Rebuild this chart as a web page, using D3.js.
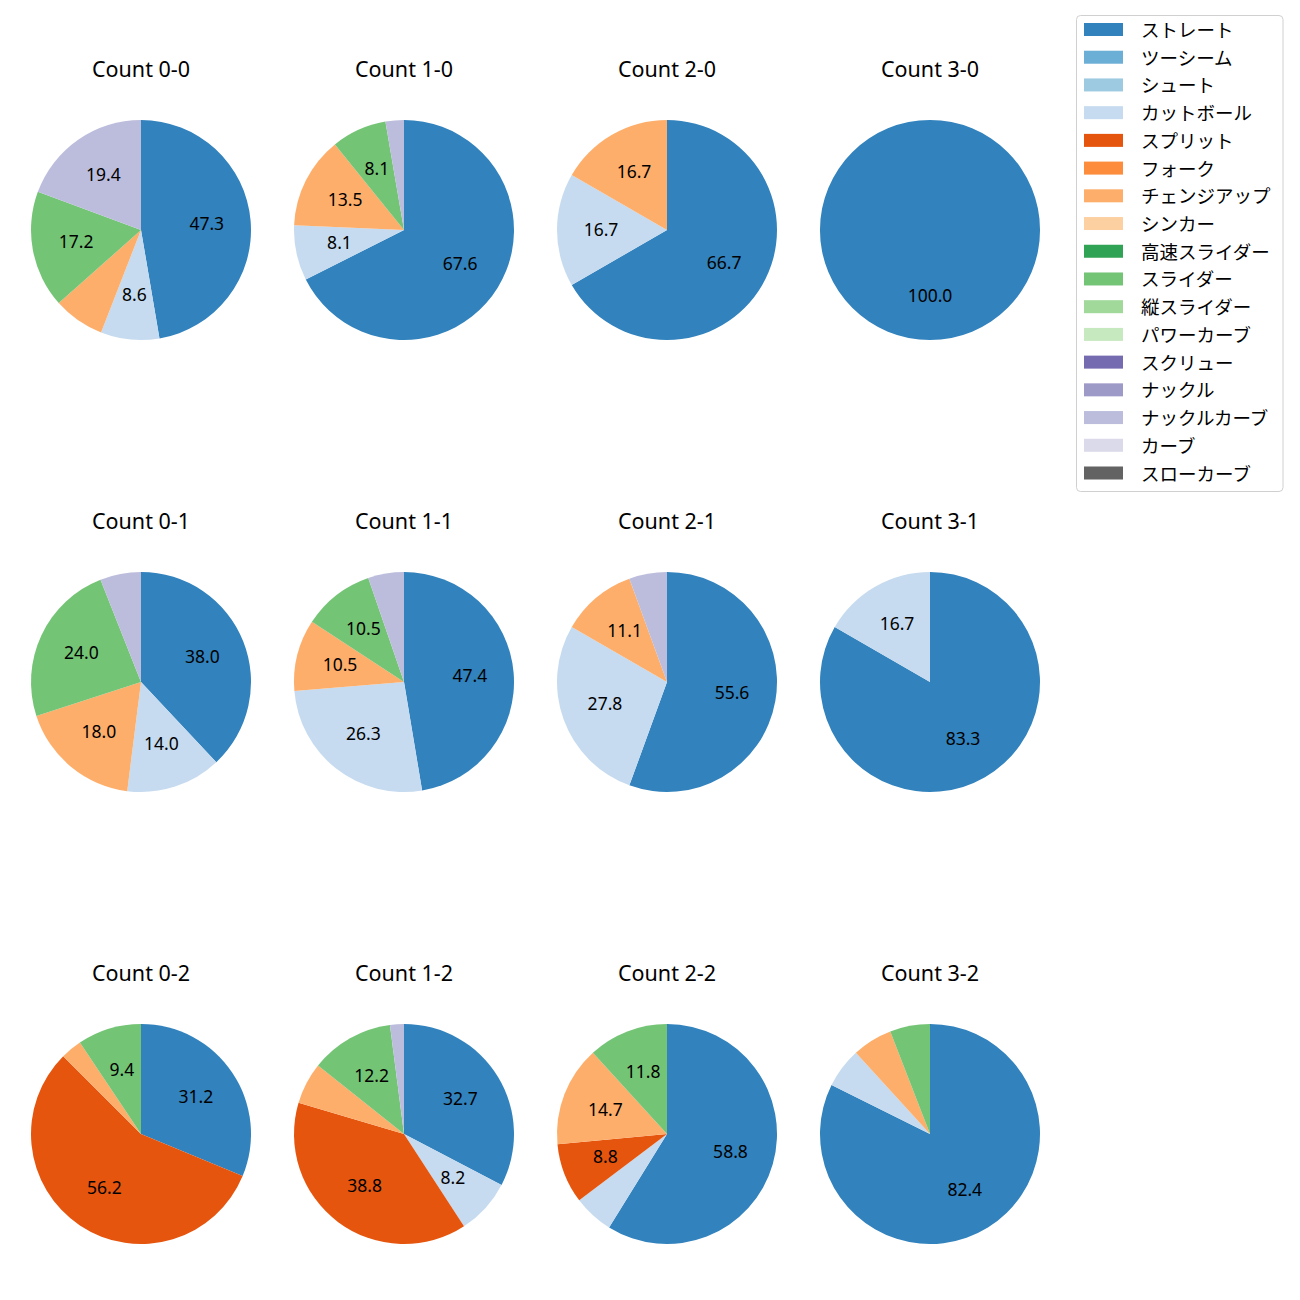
<!DOCTYPE html>
<html><head><meta charset="utf-8">
<script src="https://cdn.jsdelivr.net/npm/d3@7"></script>
<style>body{margin:0;background:#fff;} text{font-family:"Noto Sans","Noto Sans CJK JP",sans-serif;}</style>
</head><body>
<svg id="c" width="1300" height="1300"></svg>
<script>
const pitchTypes = ["ストレート","ツーシーム","シュート","カットボール","スプリット","フォーク","チェンジアップ","シンカー","高速スライダー","スライダー","縦スライダー","パワーカーブ","スクリュー","ナックル","ナックルカーブ","カーブ","スローカーブ"];
const pitchColors = ["#3182bd","#6baed6","#9ecae1","#c6dbef","#e6550d","#fd8d3c","#fdae6b","#fdd0a2","#31a354","#74c476","#a1d99b","#c7e9c0","#756bb1","#9e9ac8","#bcbddc","#dadaeb","#636363"];
const countTitles = ["Count 0-0","Count 1-0","Count 2-0","Count 3-0","Count 0-1","Count 1-1","Count 2-1","Count 3-1","Count 0-2","Count 1-2","Count 2-2","Count 3-2"];
// pitch counts per count situation, keyed by pitch type
const c00 = {"ストレート":44,"カットボール":8,"チェンジアップ":7,"スライダー":16,"ナックルカーブ":18};
const c10 = {"ストレート":25,"カットボール":3,"チェンジアップ":5,"スライダー":3,"ナックルカーブ":1};
const c20 = {"ストレート":4,"カットボール":1,"チェンジアップ":1};
const c30 = {"ストレート":5};
const c01 = {"ストレート":19,"カットボール":7,"チェンジアップ":9,"スライダー":12,"ナックルカーブ":3};
const c11 = {"ストレート":18,"カットボール":10,"チェンジアップ":4,"スライダー":4,"ナックルカーブ":2};
const c21 = {"ストレート":10,"カットボール":5,"チェンジアップ":2,"ナックルカーブ":1};
const c31 = {"ストレート":5,"カットボール":1};
const c02 = {"ストレート":10,"スプリット":18,"チェンジアップ":1,"スライダー":3};
const c12 = {"ストレート":16,"カットボール":4,"スプリット":19,"チェンジアップ":3,"スライダー":6,"ナックルカーブ":1};
const c22 = {"ストレート":20,"カットボール":2,"スプリット":3,"チェンジアップ":5,"スライダー":4};
const c32 = {"ストレート":14,"カットボール":1,"チェンジアップ":1,"スライダー":1};
const countData = [c00,c10,c20,c30,c01,c11,c21,c31,c02,c12,c22,c32];

function fmt1(p) { // round half to even, one decimal
  const x = p * 10, f = Math.floor(x), d = x - f;
  let r;
  if (Math.abs(d - 0.5) < 1e-9) r = (f % 2 === 0) ? f : f + 1; else r = Math.round(x);
  return (r / 10).toFixed(1);
}

const svg = d3.select("#c");
const color = d3.scaleOrdinal().domain(pitchTypes).range(pitchColors);
const colX = d3.scalePoint().domain([0,1,2,3]).range([141,930]);
const rowY = d3.scalePoint().domain([0,1,2]).range([230,1134]);
const R = 110;
const pie = d3.pie().sort(null).value(d => d.v).startAngle(0).endAngle(2*Math.PI);
const arc = d3.arc().innerRadius(0).outerRadius(R);
const labelArc = d3.arc().innerRadius(R*0.6).outerRadius(R*0.6);

countData.forEach((cd, i) => {
  const data = pitchTypes.filter(p => cd[p]).map(p => ({k:p, v:cd[p]}));
  const total = d3.sum(data, d => d.v);
  const g = svg.append("g").attr("transform", `translate(${colX(i%4)},${rowY(Math.floor(i/4))})`);
  g.append("text").attr("x",0).attr("y",-162).attr("text-anchor","middle").attr("dominant-baseline","central")
    .attr("font-size",21.5).attr("fill","#000").text(countTitles[i]);
  const arcs = pie(data);
  g.selectAll("path").data(arcs).join("path").attr("d", arc).attr("fill", d => color(d.data.k));
  g.selectAll("text.l").data(arcs.filter(d => d.data.v/total*100 >= 8)).join("text").attr("class","l")
    .attr("transform", d => { const c = labelArc.centroid(d); return `translate(${c[0]},${c[1]-1.5})`; })
    .attr("text-anchor","middle").attr("dominant-baseline","central").attr("font-size",17.5).attr("fill","#000")
    .text(d => fmt1(d.data.v/total*100));
});

// legend
const lg = svg.append("g");
lg.append("rect").attr("x",1076.5).attr("y",15.5).attr("width",206.5).attr("height",476).attr("rx",4)
  .attr("fill","#fff").attr("stroke","#d0d0d0").attr("stroke-width",1);
const ly = d3.scaleLinear().domain([0,16]).range([29.5,473]);
pitchTypes.forEach((p,i) => {
  lg.append("rect").attr("x",1084).attr("y",ly(i)-6.5).attr("width",39).attr("height",13).attr("fill",color(p));
  lg.append("text").attr("x",1141).attr("y",ly(i)).attr("dominant-baseline","central")
    .attr("font-family","Noto Sans CJK JP").attr("font-size",18.5).attr("fill","#000").text(p);
});
</script>
</body></html>
